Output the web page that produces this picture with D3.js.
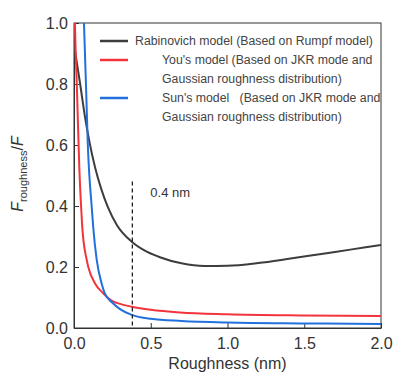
<!DOCTYPE html>
<html>
<head>
<meta charset="utf-8">
<script src="https://cdn.jsdelivr.net/npm/d3@7"></script>
<style>
  body { margin: 0; background: #fff; }
  svg { font-family: "Liberation Sans", Arial, sans-serif; }
</style>
</head>
<body>
<svg id="chart" width="397" height="374"></svg>
<script>
// values (roughness in nm, force ratio)
var rabinovich = [[0,0.93],[0.02,0.865],[0.04,0.8],[0.07,0.697],[0.1,0.612],[0.137,0.527],[0.18,0.452],
  [0.22,0.397],[0.28,0.337],[0.376,0.283],[0.45,0.257],[0.56,0.232],[0.7,0.212],[0.85,0.203],
  [1.0,0.204],[1.2,0.213],[1.4,0.227],[1.6,0.242],[1.8,0.257],[2.0,0.272]];
var yous = [[0.002,1.1],[0.006,1.0],[0.02,0.77],[0.035,0.52],[0.046,0.40],[0.054,0.33],[0.083,0.223],
  [0.093,0.2],[0.137,0.146],[0.19,0.114],[0.25,0.088],[0.3,0.079],[0.376,0.07],[0.5,0.06],
  [0.69,0.051],[1.0,0.045],[1.5,0.041],[2.0,0.039]];
var suns = [[0.06,1.1],[0.065,1.0],[0.078,0.8],[0.09,0.6],[0.1,0.5],[0.115,0.4],[0.125,0.332],
  [0.148,0.223],[0.18,0.146],[0.2,0.114],[0.25,0.083],[0.3,0.062],[0.376,0.043],[0.5,0.03],
  [0.7,0.023],[1.0,0.018],[1.5,0.015],[2.0,0.013]];
var xTicks = [0, 0.5, 1.0, 1.5, 2.0];
var yTicks = [0, 0.2, 0.4, 0.6, 0.8, 1.0];
var markX = 0.38, markTop = 0.48, markLabel = "0.4 nm";

var series = [
  {name: "rab", data: rabinovich, color: "#3d3d3d", legend: ["Rabinovich model (Based on Rumpf model)"]},
  {name: "you", data: yous, color: "#f2343c", legend: ["You's model (Based on JKR mode and", "Gaussian roughness distribution)"]},
  {name: "sun", data: suns, color: "#2270dc", legend: ["Sun's model   (Based on JKR mode and", "Gaussian roughness distribution)"]}
];

var svg = d3.select("#chart")
  , margin = {top: 23, right: 16, bottom: 46, left: 74}
  , width = 397 - margin.left - margin.right
  , height = 374 - margin.top - margin.bottom;

var x = d3.scaleLinear().domain([0, 2]).range([0, width]);
var y = d3.scaleLinear().domain([0, 1]).range([height, 0]);

var g = svg.append("g").attr("transform", "translate(" + margin.left + "," + margin.top + ")");

g.append("clipPath").attr("id", "clip")
  .append("rect").attr("width", width).attr("height", height);

// axes, ticks point inward
var xAxis = g.append("g").attr("transform", "translate(0," + height + ")")
  .call(d3.axisBottom(x).tickValues(xTicks).tickSizeInner(-5).tickSizeOuter(0).tickPadding(10)
    .tickFormat(d3.format(".1f")));
var yAxis = g.append("g")
  .call(d3.axisLeft(y).tickValues(yTicks).tickSizeInner(-5).tickSizeOuter(0).tickPadding(6)
    .tickFormat(d3.format(".1f")));
[xAxis, yAxis].forEach(function(a){
  a.selectAll("path, line").attr("stroke", "#333");
  a.selectAll("text").attr("font-size", 16).attr("fill", "#333");
});

// frame on top and right
g.append("rect").attr("width", width).attr("height", height)
  .attr("fill", "none").attr("stroke", "#333");

var line = d3.line()
  .x(function(d){ return x(d[0]); })
  .y(function(d){ return y(d[1]); })
  .curve(d3.curveMonotoneX);

g.append("g").attr("clip-path", "url(#clip)")
  .selectAll("path").data(series).enter().append("path")
  .attr("d", function(d){ return line(d.data); })
  .attr("fill", "none")
  .attr("stroke", function(d){ return d.color; })
  .attr("stroke-width", 2);

// marker line
g.append("line")
  .attr("x1", x(markX)).attr("x2", x(markX))
  .attr("y1", y(markTop)).attr("y2", y(0))
  .attr("stroke", "#111").attr("stroke-width", 1.2).attr("stroke-dasharray", "4,3");
g.append("text").attr("x", x(markX) + 18).attr("y", y(markTop) + 15)
  .attr("font-size", 13).attr("fill", "#333").text(markLabel);

// legend
var legRows = [18, 37, 75];
var leg = g.append("g").selectAll("g").data(series).enter().append("g")
  .attr("transform", function(d, i){ return "translate(26," + legRows[i] + ")"; });
leg.append("line").attr("x1", 0).attr("x2", 28)
  .attr("stroke", function(d){ return d.color; }).attr("stroke-width", 2.5);
leg.each(function(d, i){
  var t = d3.select(this);
  d.legend.forEach(function(s, k){
    t.append("text")
      .attr("x", i === 0 ? 35 : 62)
      .attr("y", 4 + k * 19)
      .attr("font-size", 12.3).attr("fill", "#444")
      .style("white-space", "pre")
      .text(s);
  });
});

// axis titles
g.append("text")
  .attr("x", width / 2).attr("y", height + 41)
  .attr("text-anchor", "middle").attr("font-size", 16).attr("fill", "#333")
  .text("Roughness (nm)");

var yl = svg.append("text")
  .attr("transform", "translate(23,174) rotate(-90)")
  .attr("text-anchor", "middle").attr("font-size", 16).attr("fill", "#333");
yl.append("tspan").attr("font-style", "italic").text("F");
yl.append("tspan").attr("font-size", 11).attr("dy", 4).text("roughness");
yl.append("tspan").attr("dy", -4).text("/");
yl.append("tspan").attr("font-style", "italic").text("F");
</script>
</body>
</html>
